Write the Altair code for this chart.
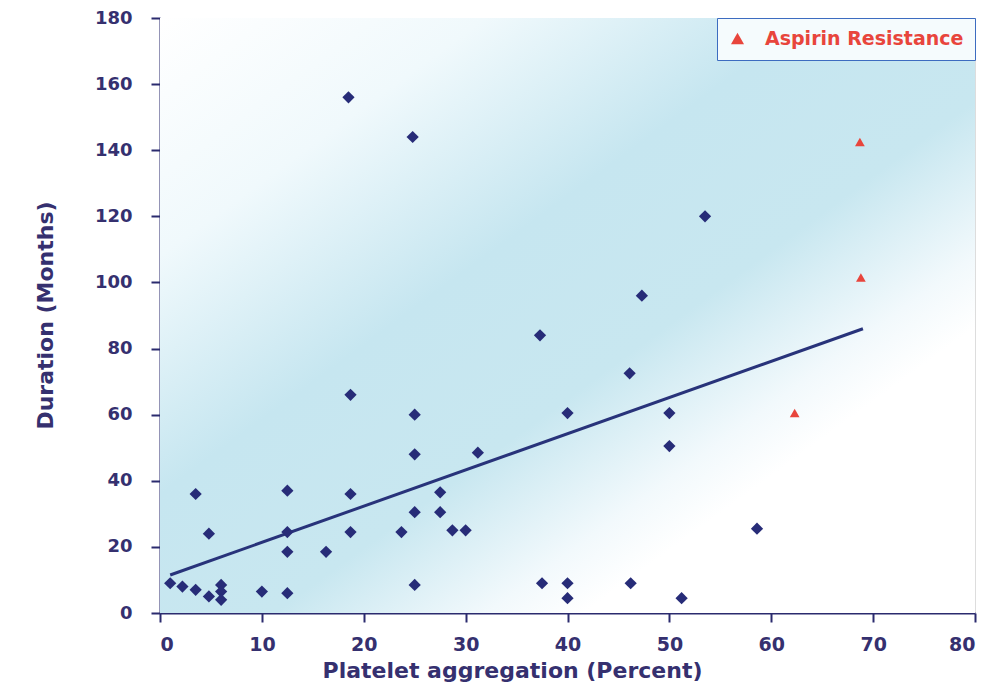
import altair as alt
import pandas as pd

# ---- data ----
diamond_x = [1, 2.2, 3.5, 4.8, 6, 6, 6, 10, 12.5, 12.5, 12.5, 12.5, 16.3, 3.5, 4.8,
             18.5, 18.7, 18.7, 18.7, 23.7, 24.8, 25, 25, 25, 25, 27.5, 27.5, 28.7, 30,
             31.2, 37.3, 37.5, 40, 40, 40, 46.1, 46.2, 47.3, 50, 50, 51.2, 53.5, 58.6]
diamond_y = [9, 8, 7, 5, 8.5, 6.5, 4, 6.5, 37, 24.5, 18.5, 6, 18.5, 36, 24,
             156, 66, 36, 24.5, 24.5, 144, 60, 48, 30.5, 8.5, 36.5, 30.5, 25, 25,
             48.5, 84, 9, 60.5, 9, 4.5, 72.5, 9, 96, 60.5, 50.5, 4.5, 120, 25.5]
resist_x = [62.3, 68.7, 68.8]
resist_y = [60.5, 142.5, 101.5]
resist_label = ["Aspirin Resistance"] * 3
trend_x = [1, 69]
trend_y = [11.5, 86]
x_ticks = [0, 10, 20, 30, 40, 50, 60, 70, 80]
y_ticks = [0, 20, 40, 60, 80, 100, 120, 140, 160, 180]

W, H = 815, 595
FONT = "DejaVu Sans"
NAVY = "#2b2b6e"
TXT = "#35306f"

d_df = pd.DataFrame({"x": diamond_x, "y": diamond_y})
r_df = pd.DataFrame({"x": resist_x, "y": resist_y, "g": resist_label})
t_df = pd.DataFrame({"x": trend_x, "y": trend_y})

xscale = alt.Scale(domain=[0, 80], nice=False, zero=False)
yscale = alt.Scale(domain=[0, 180], nice=False, zero=False)

xaxis = alt.Axis(values=x_ticks, grid=False, title="Platelet aggregation (Percent)",
                 domainColor=NAVY, domainWidth=2, tickColor=NAVY, tickWidth=2, tickSize=9,
                 labelFont=FONT, labelFontSize=19, labelFontWeight="bold", labelColor=TXT,
                 labelPadding=13, titleFont=FONT, titleFontSize=22, titleFontWeight="bold",
                 titleColor=TXT, titleX=352, titleY=64, titleAlign="center",
                 titleBaseline="alphabetic")
yaxis = alt.Axis(values=y_ticks, grid=False, title="Duration (Months)",
                 domainColor=NAVY, domainWidth=2, tickColor=NAVY, tickWidth=2, tickSize=9,
                 labelFont=FONT, labelFontSize=18, labelFontWeight="bold", labelColor=TXT,
                 labelPadding=19, titleFont=FONT, titleFontSize=22, titleFontWeight="bold",
                 titleColor=TXT, titleX=-108, titleY=297, titleAngle=270,
                 titleAlign="center", titleBaseline="alphabetic")

gradient = {
    "gradient": "linear", "x1": 0, "y1": 0, "x2": 1, "y2": 1,
    "stops": [
        {"offset": 0.0, "color": "#ffffff"},
        {"offset": 0.2, "color": "#f0f9fc"},
        {"offset": 0.4, "color": "#c6e6f0"},
        {"offset": 0.57, "color": "#c8e7f0"},
        {"offset": 0.7, "color": "#f2f9fc"},
        {"offset": 0.76, "color": "#ffffff"},
        {"offset": 1.0, "color": "#ffffff"},
    ],
}

bg = alt.Chart(t_df).mark_rect(color=gradient).encode(
    x=alt.value(0), x2=alt.value(W), y=alt.value(0), y2=alt.value(H)
)

line = alt.Chart(t_df).mark_line(color="#28337a", strokeWidth=3).encode(
    x=alt.X("x:Q", scale=xscale, axis=xaxis),
    y=alt.Y("y:Q", scale=yscale, axis=yaxis),
)

diamonds = alt.Chart(d_df).mark_point(shape="diamond", filled=True, size=150,
                                      color="#272c78", opacity=1).encode(
    x=alt.X("x:Q", scale=xscale, axis=xaxis),
    y=alt.Y("y:Q", scale=yscale, axis=yaxis),
)

resist = alt.Chart(r_df).mark_point(shape="triangle-up", filled=True, size=95,
                                    opacity=1).encode(
    x=alt.X("x:Q", scale=xscale, axis=xaxis),
    y=alt.Y("y:Q", scale=yscale, axis=yaxis),
    color=alt.Color("g:N", scale=alt.Scale(domain=["Aspirin Resistance"], range=["#e8453c"]),
                    legend=alt.Legend(orient="top-right", title=None, offset=0,
                                      symbolType="triangle-up", symbolSize=170,
                                      labelFont=FONT, labelFontSize=19, labelFontWeight="bold",
                                      labelColor="#e8453c", labelOffset=18, labelLimit=500,
                                      strokeColor="#3d6cc0", fillColor="#f5fbfd",
                                      padding=11)),
)

chart = alt.layer(bg, line, diamonds, resist).properties(
    width=W, height=H,
    autosize=alt.AutoSizeParams(type="none"),
    padding={"left": 152, "top": 10, "right": 12, "bottom": 73},
).configure_view(stroke="#4a6db8", strokeWidth=1.5).configure(background="#ffffff")

chart.save("out.html", embed_options={"renderer": "svg", "actions": False})
